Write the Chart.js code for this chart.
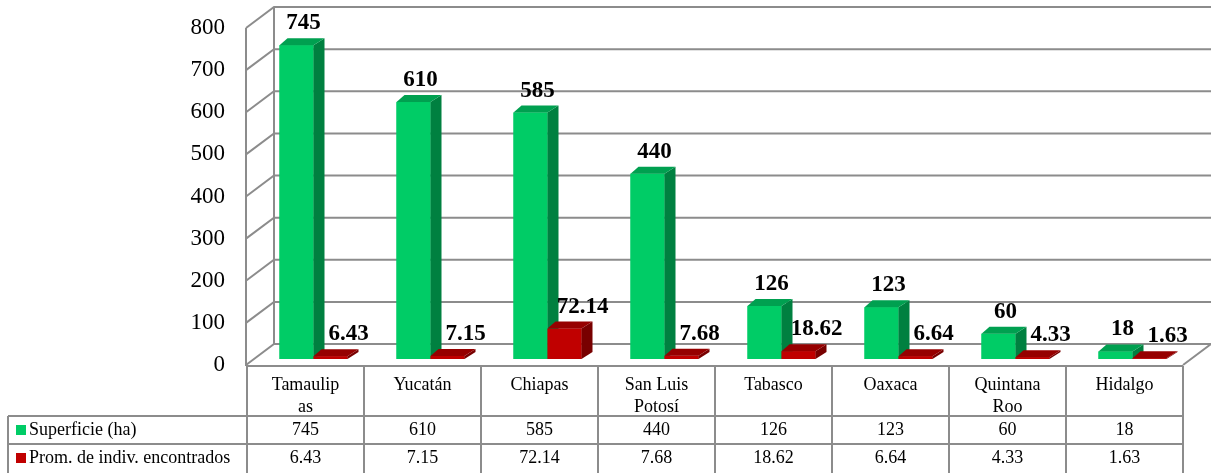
<!DOCTYPE html>
<html>
<head>
<meta charset="utf-8">
<script src="https://cdn.jsdelivr.net/npm/chart.js@4"></script>
<style>
  html, body { margin: 0; padding: 0; background: #fff; }
  #wrap { width: 1211px; height: 473px; position: relative; }
</style>
</head>
<body>
<div id="wrap"><canvas id="c"></canvas></div>
<script>
// ---- data ----
const categories = [['Tamaulip', 'as'], ['Yucatán'], ['Chiapas'], ['San Luis', 'Potosí'], ['Tabasco'], ['Oaxaca'], ['Quintana', 'Roo'], ['Hidalgo']];
const superficie = [745, 610, 585, 440, 126, 123, 60, 18];
const promedio = [6.43, 7.15, 72.14, 7.68, 18.62, 6.64, 4.33, 1.63];
const seriesNames = ['Superficie (ha)', 'Prom. de indiv. encontrados'];
const yMin = 0, yMax = 800, yStep = 100;

// ---- style ----
const SERIF = "'Liberation Serif', 'Times New Roman', serif";
const GRID = '#8c8c8c';
const FRONT = ['#00cc66', '#c00000'];
const SIDE = ['#008040', '#780000'];
const TOP = ['#00a050', '#960000'];
const WALL_DX = 28, WALL_DY = 21;   // back wall offset
const BAR_SHIFT_X = 8, BAR_SHIFT_Y = -6; // bar plane offset
const BAR_DX = 11, BAR_DY = 7;      // bar depth

const threeD = {
  id: 'threeD',
  beforeDatasetsDraw(chart) {
    const { ctx, chartArea: a, scales: { y } } = chart;
    ctx.save();
    ctx.strokeStyle = GRID;
    ctx.lineWidth = 2;
    ctx.beginPath();
    for (let v = yMin; v <= yMax; v += yStep) {
      const yf = y.getPixelForValue(v);
      ctx.moveTo(a.left - 1, yf);
      ctx.lineTo(a.left - 1 + WALL_DX, yf - WALL_DY);
      ctx.lineTo(a.right + WALL_DX + 2, yf - WALL_DY);
    }
    const y0 = y.getPixelForValue(yMin), yT = y.getPixelForValue(yMax);
    ctx.moveTo(a.left - 1, y0 + 1);
    ctx.lineTo(a.left - 1, yT);
    ctx.moveTo(a.left - 1 + WALL_DX, y0 - WALL_DY);
    ctx.lineTo(a.left - 1 + WALL_DX, yT - WALL_DY);
    ctx.moveTo(a.right, y0);
    ctx.lineTo(a.right + WALL_DX, y0 - WALL_DY);
    ctx.stroke();
    ctx.restore();
    ctx.save();
    ctx.translate(BAR_SHIFT_X, BAR_SHIFT_Y);
  },
  afterDatasetsDraw(chart) {
    const { ctx } = chart;
    const metas = [chart.getDatasetMeta(0), chart.getDatasetMeta(1)];
    const n = categories.length;
    for (let i = 0; i < n; i++) {
      for (let d = 0; d < 2; d++) {
        const el = metas[d].data[i];
        const x0 = el.x - el.width / 2, x1 = el.x + el.width / 2;
        const yt = el.y, yb = el.base;
        ctx.fillStyle = FRONT[d];
        ctx.fillRect(x0, yt, x1 - x0, yb - yt);
        ctx.fillStyle = SIDE[d];
        ctx.beginPath();
        ctx.moveTo(x1, yt); ctx.lineTo(x1 + BAR_DX, yt - BAR_DY);
        ctx.lineTo(x1 + BAR_DX, yb - BAR_DY); ctx.lineTo(x1, yb);
        ctx.closePath(); ctx.fill();
        ctx.fillStyle = TOP[d];
        ctx.beginPath();
        ctx.moveTo(x0, yt); ctx.lineTo(x0 + BAR_DX - 3, yt - BAR_DY);
        ctx.lineTo(x1 + BAR_DX, yt - BAR_DY); ctx.lineTo(x1, yt);
        ctx.closePath(); ctx.fill();
      }
    }
    ctx.fillStyle = '#000';
    ctx.font = 'bold 23px ' + SERIF;
    ctx.textAlign = 'center';
    ctx.textBaseline = 'alphabetic';
    const vals = [superficie, promedio];
    const offs = [7, 18];
    for (let d = 0; d < 2; d++) {
      metas[d].data.forEach((el, i) => {
        ctx.fillText(String(vals[d][i]), el.x + offs[d], el.y - 16);
      });
    }
    ctx.restore();
  },
  afterDraw(chart) {
    const { ctx, chartArea: a, scales: { x, y } } = chart;
    const n = categories.length;
    const cw = (a.right - a.left) / n;
    const top = y.getPixelForValue(yMin) + 1;
    const r1 = top + 50, r2 = r1 + 28, bottom = 473;
    const legLeft = 8;
    ctx.save();
    ctx.strokeStyle = GRID;
    ctx.lineWidth = 2;
    ctx.beginPath();
    ctx.moveTo(a.left, top); ctx.lineTo(a.right, top);
    ctx.moveTo(legLeft, r1); ctx.lineTo(a.right, r1);
    ctx.moveTo(legLeft, r2); ctx.lineTo(a.right, r2);
    ctx.moveTo(legLeft, r1); ctx.lineTo(legLeft, bottom);
    for (let i = 0; i <= n; i++) {
      const xx = a.left + i * cw;
      ctx.moveTo(xx, top); ctx.lineTo(xx, bottom);
    }
    ctx.stroke();
    ctx.fillStyle = '#000';
    ctx.font = '18px ' + SERIF;
    ctx.textAlign = 'center';
    ctx.textBaseline = 'middle';
    for (let i = 0; i < n; i++) {
      const cx = x.getPixelForValue(i);
      const lines = categories[i];
      lines.forEach((t, k) => ctx.fillText(t, cx, top + 19 + k * 22));
      ctx.fillText(String(superficie[i]), cx, r1 + 14);
      ctx.fillText(String(promedio[i]), cx, r2 + 14);
    }
    ctx.textAlign = 'left';
    [r1, r2].forEach((ry, d) => {
      ctx.fillStyle = FRONT[d];
      ctx.fillRect(16, ry + 9, 10, 10);
      ctx.fillStyle = '#000';
      ctx.fillText(seriesNames[d], 29, ry + 14);
    });
    ctx.restore();
  }
};

new Chart(document.getElementById('c'), {
  type: 'bar',
  data: {
    labels: categories,
    datasets: [
      { label: seriesNames[0], data: superficie, backgroundColor: FRONT[0], borderWidth: 0, clip: false },
      { label: seriesNames[1], data: promedio, backgroundColor: FRONT[1], borderWidth: 0, clip: false }
    ]
  },
  options: {
    responsive: true,
    maintainAspectRatio: false,
    animation: false,
    devicePixelRatio: 1,
    layout: { padding: { left: 0, right: 28, top: 28, bottom: 108 } },
    datasets: { bar: { barPercentage: 1, categoryPercentage: 68 / 117 } },
    plugins: { legend: { display: false }, tooltip: { enabled: false } },
    scales: {
      x: { display: false },
      y: {
        min: yMin, max: yMax,
        ticks: { stepSize: yStep, padding: 22, color: '#000', font: { family: SERIF, size: 23 } },
        grid: { display: false, drawTicks: false },
        border: { display: false },
        afterFit(s) { s.width = 247; s.paddingTop = 0; s.paddingBottom = 0; }
      }
    }
  },
  plugins: [threeD]
});
</script>
</body>
</html>
